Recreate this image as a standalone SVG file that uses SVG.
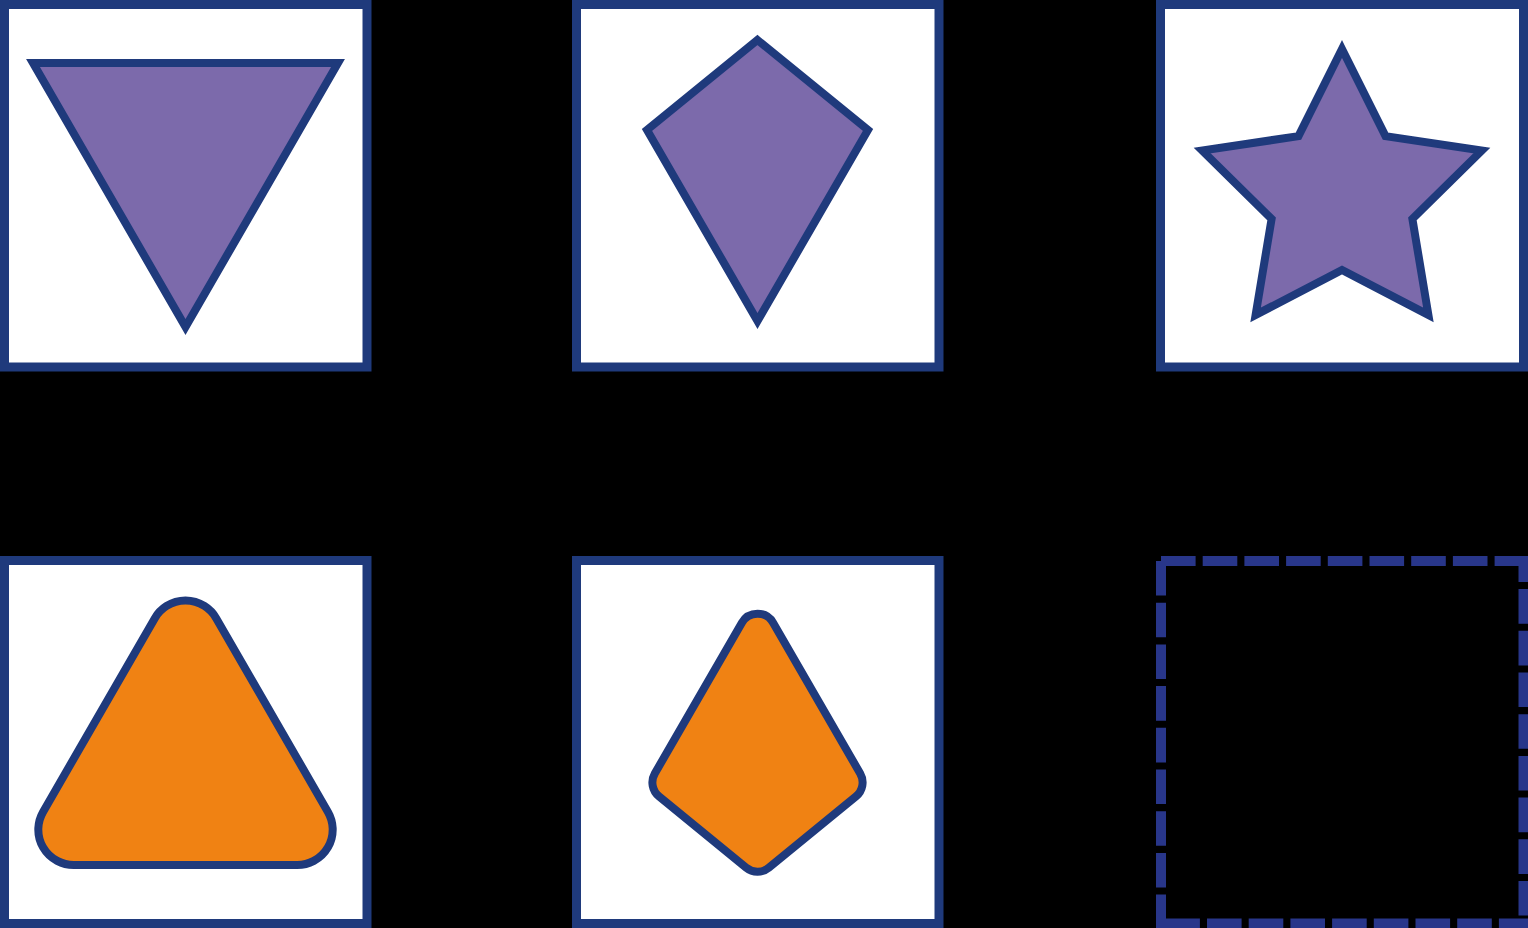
<svg xmlns="http://www.w3.org/2000/svg" width="1528" height="928" viewBox="0 0 1528 928">
  <style>
    .box { fill: #ffffff; stroke: #1f3a7c; stroke-width: 9; }
    .dash { fill: none; stroke: #28368a; stroke-width: 10; stroke-dasharray: 34.6 7.1; stroke-linecap: butt; }
    .purple { fill: #7c6aab; stroke: #1f3a7c; stroke-width: 8; stroke-linejoin: miter; stroke-miterlimit: 10; }
    .orange { fill: #f08213; stroke: #1f3a7c; stroke-width: 8; stroke-linejoin: round; }
  </style>
  <rect x="0" y="0" width="1528" height="928" fill="#000000"/>

  <g id="cell-triangle-down">
    <rect class="box" x="4.5" y="4.5" width="362.5" height="362.5"/>
    <polygon class="purple" points="33,63 338,63 185.5,327"/>
  </g>

  <g id="cell-kite">
    <rect class="box" x="576.5" y="4.5" width="362.5" height="362.5"/>
    <polygon class="purple" points="757.5,40 868,130 757.5,321 647,130"/>
  </g>

  <g id="cell-star">
    <rect class="box" x="1160.5" y="4.5" width="363" height="362.5"/>
    <polygon class="purple" points="1342,49 1385.5,136.1 1481.8,150.6 1412.4,218.9 1428.4,314.9 1342,270 1255.6,314.9 1271.6,218.9 1202.2,150.6 1298.5,136.1"/>
  </g>

  <g id="cell-rounded-triangle">
    <rect class="box" x="4.5" y="560.5" width="362.5" height="363"/>
    <path class="orange" d="M73.7,865 L297.3,865 A35.4,35.4 0 0 0 327.95,811.9 L216.15,618.2 A35.4,35.4 0 0 0 154.85,618.2 L43.05,811.9 A35.4,35.4 0 0 0 73.7,865 Z"/>
  </g>

  <g id="cell-rounded-kite">
    <rect class="box" x="576.5" y="560.5" width="362.5" height="363"/>
    <path class="orange" d="M741.9,622.7 A18,18 0 0 1 773.1,622.7 L860.2,773.5 A18,18 0 0 1 856,796.4 L768.9,867.7 A18,18 0 0 1 746.1,867.7 L659,796.4 A18,18 0 0 1 654.8,773.5 Z"/>
  </g>

  <g id="cell-answer-empty">
    <line class="dash" x1="1161" y1="561" x2="1528" y2="561"/>
    <line class="dash" x1="1523.5" y1="556" x2="1523.5" y2="928" stroke-dashoffset="8.6"/>
    <line class="dash" x1="1165.3" y1="923.5" x2="1528" y2="923.5"/>
    <line class="dash" x1="1161" y1="561" x2="1161" y2="928"/>
  </g>

  <g id="connectors"/>
</svg>
